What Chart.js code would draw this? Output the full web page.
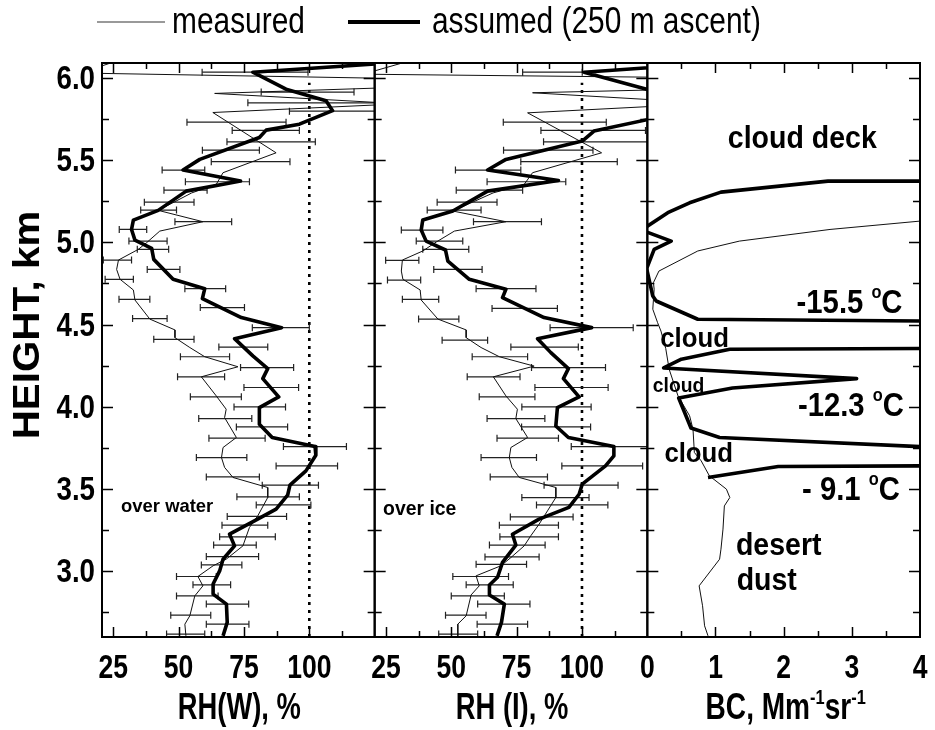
<!DOCTYPE html>
<html>
<head>
<meta charset="utf-8">
<title>RH and backscatter profiles</title>
<script src="https://cdn.jsdelivr.net/npm/chart.js@4.4.1/dist/chart.umd.min.js"></script>
<style>
  html, body { margin: 0; padding: 0; background: #fff; }
  #wrap { position: relative; width: 935px; height: 730px; }
</style>
</head>
<body>
<div id="wrap"><canvas id="profiles"></canvas></div>
<script>
// ---- RH over water (%), measured profile ----
const hMeasW = [6.12, 6.029, 5.977, 5.905, 5.842, 5.789, 5.544, 5.423, 5.352, 5.30, 5.194, 5.125, 5.068, 4.998, 4.957, 4.892, 4.835, 4.775, 4.71, 4.649, 4.533, 4.467, 4.42, 4.36, 4.304, 4.243, 4.182, 4.066, 3.985, 3.934, 3.813, 3.752, 3.691, 3.631, 3.57, 3.509, 3.448, 3.337, 3.266, 3.154, 3.073, 3.033, 2.968, 2.911, 2.85, 2.729, 2.678, 2.607];
const rhMeasW = [29.5, 12.7, 201, 63.8, 135, 63.1, 87.3, 67.0, 64.4, 55.0, 42.2, 59.3, 42.8, 37.8, 34.6, 27.0, 26.3, 27.6, 32.7, 33.3, 39.0, 48.6, 48.6, 54.3, 60.0, 72.7, 58.7, 64.4, 68.2, 67.6, 72.1, 67.0, 66.4, 67.6, 70.8, 84.1, 84.1, 80.3, 77.1, 74.6, 68.2, 63.2, 57.4, 59.3, 56.2, 54.3, 52.4, 52.8];

// ---- RH over water (%), assumed profile (250 m ascent) ----
const hAsmW = [6.1, 6.034, 5.931, 5.86, 5.80, 5.718, 5.682, 5.637, 5.504, 5.439, 5.372, 5.311, 5.194, 5.135, 5.078, 5.013, 4.963, 4.896, 4.775, 4.718, 4.657, 4.542, 4.481, 4.414, 4.309, 4.232, 4.171, 4.06, 3.995, 3.894, 3.813, 3.758, 3.705, 3.61, 3.523, 3.462, 3.377, 3.306, 3.225, 3.154, 3.073, 3.002, 2.922, 2.861, 2.8, 2.689, 2.607];
const rhAsmW = [140, 78.4, 91.1, 106.4, 108.9, 96.2, 83.5, 80.9, 58.1, 51.7, 73.7, 52.9, 42.2, 32.7, 32.0, 33.3, 39.7, 40.5, 47.9, 60.0, 59.1, 74.0, 89.4, 71.4, 78.4, 84.1, 82.2, 88.3, 80.9, 80.9, 85.8, 102.2, 102.5, 98.7, 92.6, 91.7, 87.3, 79.0, 69.5, 71.4, 67.0, 65.7, 63.2, 63.2, 68.3, 68.6, 67.0];

// ---- RH over water error bars ----
const hErrW = [6.034, 5.913, 5.848, 5.797, 5.73, 5.68, 5.611, 5.56, 5.49, 5.439, 5.368, 5.317, 5.244, 5.196, 5.125, 5.078, 5.007, 4.957, 4.892, 4.835, 4.775, 4.718, 4.653, 4.603, 4.536, 4.481, 4.41, 4.363, 4.304, 4.238, 4.182, 4.117, 4.06, 3.999, 3.928, 3.877, 3.809, 3.758, 3.691, 3.64, 3.573, 3.523, 3.452, 3.403, 3.333, 3.28, 3.209, 3.159, 3.089, 3.038, 2.968, 2.917, 2.85, 2.8, 2.733, 2.678, 2.618];
const errLoW = [59.0, 81.6, 76.5, 92.4, 53.2, 70.5, 68.5, 59.1, 62.5, 43.7, 52.6, 44.4, 36.9, 35.5, 48.6, 27.3, 31.0, 34.2, 21.2, 38.0, 21.9, 52.4, 27.2, 58.3, 32.4, 78.2, 40.5, 65.4, 50.7, 73.7, 49.6, 75.0, 54.5, 71.2, 57.7, 72.1, 61.6, 90.1, 56.8, 87.3, 60.6, 82.0, 72.3, 79.7, 68.6, 66.6, 65.7, 63.4, 60.6, 58.7, 49.2, 55.5, 49.2, 60.6, 47.0, 60.6, 45.4];
const errHiW = [99.5, 117.1, 128, 128, 91.1, 96.2, 102.3, 80.9, 92.6, 60.0, 77.1, 60.9, 55.9, 49.2, 70.3, 37.8, 45.6, 46.2, 32.0, 50.5, 32.7, 68.0, 39.0, 75.2, 45.6, 100, 55.9, 84.1, 69.5, 94.0, 67.6, 95.9, 74.0, 90.9, 78.0, 91.7, 83.1, 114.2, 76.1, 110.8, 80.9, 103.5, 96.2, 100.6, 91.3, 84.1, 87.0, 79.7, 80.6, 74.2, 64.4, 69.9, 65.1, 76.8, 62.3, 76.9, 60.0];

// ---- RH over ice (%), measured profile ----
const hMeasI = [6.12, 6.022, 5.98, 5.909, 5.845, 5.787, 5.544, 5.423, 5.352, 5.30, 5.19, 5.125, 5.068, 5.001, 4.947, 4.892, 4.825, 4.775, 4.71, 4.649, 4.533, 4.467, 4.42, 4.36, 4.304, 4.247, 4.182, 4.066, 3.985, 3.928, 3.813, 3.752, 3.691, 3.631, 3.57, 3.509, 3.448, 3.367, 3.286, 3.215, 3.154, 3.083, 3.033, 2.972, 2.911, 2.856, 2.729, 2.678, 2.607];
const rhMeasI = [37.8, 16.3, 270, 81.1, 150, 79.2, 107.5, 81.1, 77.9, 66.0, 50.6, 70.9, 51.2, 44.2, 39.1, 31.3, 30.9, 31.5, 38.1, 38.5, 44.9, 55.7, 55.7, 61.4, 68.4, 81.7, 66.1, 70.9, 75.3, 74.7, 79.2, 72.8, 72.2, 73.2, 76.0, 90.0, 90.0, 86.8, 83.6, 80.4, 77.9, 72.8, 69.0, 59.5, 60.7, 57.6, 55.7, 52.5, 52.5];

// ---- RH over ice (%), assumed profile ----
const hAsmI = [6.1, 6.034, 5.86, 5.80, 5.676, 5.615, 5.504, 5.439, 5.376, 5.311, 5.19, 5.135, 5.074, 5.007, 4.953, 4.886, 4.775, 4.714, 4.663, 4.542, 4.481, 4.414, 4.329, 4.232, 4.171, 4.06, 3.995, 3.883, 3.813, 3.758, 3.701, 3.64, 3.529, 3.468, 3.388, 3.317, 3.225, 3.159, 3.054, 2.963, 2.916, 2.855, 2.8, 2.689, 2.607];
const rhAsmI = [160, 100.8, 141, 141, 104.6, 100.1, 70.9, 63.9, 91.0, 63.9, 50.6, 39.1, 38.5, 40.4, 47.8, 48.7, 56.9, 70.9, 69.6, 85.5, 103.7, 83.0, 88.1, 94.8, 92.9, 98.9, 90.6, 90.0, 94.8, 112.2, 112.2, 109.0, 100.1, 98.9, 95.0, 83.6, 73.4, 74.7, 69.6, 67.7, 64.6, 64.6, 70.3, 69.2, 67.5];

// ---- RH over ice error bars ----
const hErrI = [6.034, 5.73, 5.68, 5.611, 5.56, 5.49, 5.439, 5.368, 5.317, 5.244, 5.196, 5.125, 5.074, 5.007, 4.957, 4.89, 4.835, 4.77, 4.718, 4.653, 4.598, 4.533, 4.481, 4.405, 4.363, 4.304, 4.238, 4.182, 4.117, 4.06, 3.999, 3.928, 3.877, 3.809, 3.758, 3.691, 3.64, 3.573, 3.523, 3.448, 3.403, 3.33, 3.28, 3.209, 3.159, 3.087, 3.042, 2.968, 2.917, 2.85, 2.8, 2.733, 2.678, 2.618];
const errLoI = [77.3, 69.9, 84.3, 85.3, 70.0, 76.6, 51.6, 63.7, 51.9, 44.6, 40.8, 58.5, 30.9, 36.6, 39.1, 24.9, 43.3, 25.6, 59.5, 31.3, 65.6, 37.5, 87.8, 46.5, 72.8, 58.0, 80.7, 56.1, 82.0, 60.7, 77.0, 63.7, 76.9, 67.5, 95.9, 61.4, 92.3, 64.9, 85.5, 77.0, 82.6, 72.6, 68.4, 68.6, 64.6, 62.9, 59.5, 50.6, 55.7, 50.0, 60.1, 47.8, 59.9, 45.2];
const errHiI = [100.1, 109.3, 124.3, 128, 104.2, 113.5, 76.6, 93.8, 77.3, 67.5, 61.4, 84.5, 46.8, 54.4, 56.7, 37.6, 61.8, 38.3, 82.4, 45.2, 90.6, 52.9, 119.6, 63.9, 98.6, 79.2, 109.0, 76.3, 110.0, 82.0, 103.5, 85.8, 103.3, 91.0, 128, 82.6, 123.2, 86.8, 113.8, 102.7, 109.9, 96.6, 91.0, 91.0, 85.9, 83.6, 78.8, 71.9, 73.7, 70.3, 80.1, 63.3, 79.2, 60.1];

// ---- backscatter coefficient (Mm-1 sr-1) ----
const hMeasBC = [5.148, 5.078, 5.007, 4.947, 4.825, 4.755, 4.714, 4.593, 4.512, 4.46, 4.354, 4.228, 4.066, 3.945, 3.863, 3.722, 3.671, 3.58, 3.499, 3.448, 3.397, 3.256, 3.134, 3.073, 2.911, 2.79, 2.668, 2.607];
const bcMeas = [4.5, 2.68, 1.35, 0.74, 0.17, 0.09, 0.10, 0.08, 0.15, 0.20, 0.27, 0.32, 0.45, 0.62, 0.67, 0.69, 0.79, 0.91, 1.16, 1.21, 1.13, 1.11, 1.08, 1.06, 0.76, 0.81, 0.84, 0.89];
const hAsmBC = [5.372, 5.372, 5.305, 5.24, 5.18, 5.098, 5.07, 5.007, 4.957, 4.84, 4.673, 4.643, 4.532, 4.52, 4.355, 4.35, 4.289, 4.236, 4.171, 4.114, 4.053, 3.871, 3.813, 3.748, 3.641, 3.637, 3.57];
const bcAsm = [4.5, 2.65, 1.08, 0.62, 0.30, 0.0, -0.06, 0.35, 0.10, -0.01, 0.08, 0.13, 0.74, 4.5, 4.5, 1.21, 0.50, 0.24, 3.07, 1.25, 0.46, 0.64, 1.06, 4.5, 4.5, 1.92, 0.89];

// ---- ticks ----
const heightTicks = [3.0, 3.5, 4.0, 4.5, 5.0, 5.5, 6.0];
const rhTicks = [25, 50, 75, 100];
const bcTicks = [0, 1, 2, 3, 4];

const FAMILY = '"Liberation Sans", Arial, sans-serif';
const INK = '#000';

function profile(hs, xs) {
    return hs.map((h, i) => ({ x: xs[i], y: h }));
}

// each bar is lo -> hi at one height, NaN point breaks the line between bars
function errorBars(hs, lo, hi) {
    const out = [];
    hs.forEach((h, i) => {
        out.push({ x: lo[i], y: h }, { x: hi[i], y: h }, { x: NaN, y: NaN });
    });
    return out;
}

function thinLine(data, axis) {
    return { data, xAxisID: axis, yAxisID: 'y', borderColor: '#111', borderWidth: 1, pointRadius: 0, order: 2, clip: 0 };
}
function thickLine(data, axis) {
    return { data, xAxisID: axis, yAxisID: 'y', borderColor: INK, borderWidth: 3.6, pointRadius: 0, order: 1, clip: 0,
             borderJoinStyle: 'round' };
}
function barSet(data, axis) {
    return { data, xAxisID: axis, yAxisID: 'y', borderColor: '#222', borderWidth: 1.2, order: 3, clip: 0,
             pointStyle: 'line', rotation: 90, pointRadius: 3.5, pointBorderWidth: 1.2, pointBorderColor: '#222' };
}
function saturation(axis) {
    return { data: [{ x: 100, y: 2.6 }, { x: 100, y: 5.97 }], xAxisID: axis, yAxisID: 'y', borderColor: INK,
             borderWidth: 2.6, borderDash: [3, 5], pointRadius: 0, order: 4, clip: 0 };
}

// text with optional superscripts, squeezed horizontally by sx
function drawRuns(ctx, runs, x, y, align, sx) {
    ctx.save();
    let total = 0;
    runs.forEach(r => {
        ctx.font = (r.bold === false ? '' : 'bold ') + r.size + 'px ' + FAMILY;
        r.w = ctx.measureText(r.text).width;
        total += r.w;
    });
    const start = align === 'center' ? x - total * sx / 2 : align === 'right' ? x - total * sx : x;
    ctx.translate(start, y);
    ctx.scale(sx, 1);
    ctx.textAlign = 'left';
    ctx.textBaseline = 'alphabetic';
    ctx.fillStyle = INK;
    let cx = 0;
    runs.forEach(r => {
        ctx.font = (r.bold === false ? '' : 'bold ') + r.size + 'px ' + FAMILY;
        ctx.fillText(r.text, cx, -(r.rise || 0));
        cx += r.w;
    });
    ctx.restore();
}
function drawText(ctx, text, x, y, size, align, sx, bold) {
    drawRuns(ctx, [{ text, size, bold }], x, y, align, sx);
}
function degC(label, size) {
    return [{ text: label, size }, { text: 'o', size: Math.round(size * 0.55), rise: size * 0.45 }, { text: 'C', size }];
}

const frame = {
    id: 'frame',
    afterDraw(chart) {
        const { ctx, scales } = chart;
        const y = scales.y;
        const panels = [
            { s: scales.xw, major: rhTicks, minorStep: 12.5 },
            { s: scales.xi, major: rhTicks, minorStep: 12.5 },
            { s: scales.xb, major: bcTicks, minorStep: 0.5 }
        ];
        ctx.save();
        ctx.strokeStyle = INK;
        ctx.lineWidth = 1.5;
        panels.forEach(p => {
            const s = p.s;
            // x ticks, inward from top and bottom
            for (let v = s.min - (s.min % p.minorStep) + p.minorStep; v < s.max; v += p.minorStep) {
                const px = Math.round(s.getPixelForValue(v)) + 0.5;
                const len = p.major.includes(v) ? 10 : 6;
                ctx.beginPath();
                ctx.moveTo(px, y.bottom); ctx.lineTo(px, y.bottom - len);
                ctx.moveTo(px, y.top); ctx.lineTo(px, y.top + len);
                ctx.stroke();
            }
            // height ticks, inward from both sides of the panel
            for (let h = 2.75; h <= 6.0001; h += 0.25) {
                const py = Math.round(y.getPixelForValue(h)) + 0.5;
                const len = Math.abs(h * 2 - Math.round(h * 2)) < 1e-6 ? 11 : 7;
                ctx.beginPath();
                ctx.moveTo(s.left, py); ctx.lineTo(s.left + len, py);
                ctx.moveTo(s.right, py); ctx.lineTo(s.right - len, py);
                ctx.stroke();
            }
        });
        ctx.lineWidth = 2;
        panels.forEach(p => {
            ctx.strokeRect(p.s.left, y.top, p.s.right - p.s.left, y.bottom - y.top);
        });
        ctx.restore();

        // tick labels
        heightTicks.forEach(h => drawText(ctx, h.toFixed(1), 95, y.getPixelForValue(h) + 11, 33, 'right', 0.84));
        [scales.xw, scales.xi].forEach(s => rhTicks.forEach(v => drawText(ctx, String(v), s.getPixelForValue(v), 678, 34, 'center', 0.78)));
        bcTicks.forEach(v => drawText(ctx, String(v), scales.xb.getPixelForValue(v), 678, 34, 'center', 0.78));

        // axis titles
        drawText(ctx, 'RH(W), %', (scales.xw.left + scales.xw.right) / 2 + 1, 719, 36, 'center', 0.76);
        drawText(ctx, 'RH (I), %', (scales.xi.left + scales.xi.right) / 2 + 1, 719, 36, 'center', 0.76);
        drawRuns(ctx, [{ text: 'BC, Mm', size: 36 }, { text: '-1', size: 21, rise: 15 }, { text: 'sr', size: 36 },
                       { text: '-1', size: 21, rise: 15 }], (scales.xb.left + scales.xb.right) / 2 + 2, 719, 'center', 0.78);
        ctx.save();
        ctx.translate(39, 325);
        ctx.rotate(-Math.PI / 2);
        drawText(ctx, 'HEIGHT, km', 0, 0, 36, 'center', 1.12);
        ctx.restore();

        // panel notes
        const xw = scales.xw, xi = scales.xi, xb = scales.xb;
        drawText(ctx, 'over water', xw.getPixelForValue(28), y.getPixelForValue(3.36), 19, 'left', 0.97);
        drawText(ctx, 'over ice', xi.getPixelForValue(23.9), y.getPixelForValue(3.342), 20, 'left', 0.97);
        drawText(ctx, 'cloud deck', xb.getPixelForValue(1.18), y.getPixelForValue(5.573), 31, 'left', 0.92);
        drawRuns(ctx, degC('-15.5 ', 34), xb.getPixelForValue(2.19), y.getPixelForValue(4.57), 'left', 0.86);
        drawText(ctx, 'cloud', xb.getPixelForValue(0.19), y.getPixelForValue(4.364), 28, 'left', 0.92);
        drawText(ctx, 'cloud', xb.getPixelForValue(0.08), y.getPixelForValue(4.09), 21, 'left', 0.92);
        drawRuns(ctx, degC('-12.3 ', 34), xb.getPixelForValue(2.21), y.getPixelForValue(3.944), 'left', 0.86);
        drawText(ctx, 'cloud', xb.getPixelForValue(0.25), y.getPixelForValue(3.664), 28, 'left', 0.92);
        drawRuns(ctx, degC('- 9.1 ', 34), xb.getPixelForValue(2.27), y.getPixelForValue(3.433), 'left', 0.86);
        drawText(ctx, 'desert', xb.getPixelForValue(1.30), y.getPixelForValue(3.099), 31, 'left', 0.92);
        drawText(ctx, 'dust', xb.getPixelForValue(1.31), y.getPixelForValue(2.886), 31, 'left', 0.92);

        // legend
        ctx.save();
        ctx.strokeStyle = '#777';
        ctx.lineWidth = 1.5;
        ctx.beginPath(); ctx.moveTo(97, 22); ctx.lineTo(165, 22); ctx.stroke();
        ctx.strokeStyle = INK;
        ctx.lineWidth = 4;
        ctx.beginPath(); ctx.moveTo(348, 22); ctx.lineTo(420, 22); ctx.stroke();
        ctx.restore();
        drawText(ctx, 'measured', 172, 33, 36, 'left', 0.83, false);
        drawText(ctx, 'assumed (250 m ascent)', 432, 33, 36, 'left', 0.83, false);
    }
};

document.addEventListener('DOMContentLoaded', () => {
    const ctx = document.getElementById('profiles').getContext('2d');
    new Chart(ctx, {
        type: 'line',
        data: {
            datasets: [
                thickLine(profile(hAsmW, rhAsmW), 'xw'),
                thinLine(profile(hMeasW, rhMeasW), 'xw'),
                barSet(errorBars(hErrW, errLoW, errHiW), 'xw'),
                saturation('xw'),
                thickLine(profile(hAsmI, rhAsmI), 'xi'),
                thinLine(profile(hMeasI, rhMeasI), 'xi'),
                barSet(errorBars(hErrI, errLoI, errHiI), 'xi'),
                saturation('xi'),
                thickLine(profile(hAsmBC, bcAsm), 'xb'),
                thinLine(profile(hMeasBC, bcMeas), 'xb')
            ]
        },
        options: {
            responsive: true,
            maintainAspectRatio: false,
            animation: false,
            events: [],
            layout: { padding: { left: 102, right: 15, top: 63, bottom: 93 } },
            elements: { line: { tension: 0 } },
            plugins: { legend: { display: false }, tooltip: { enabled: false } },
            scales: {
                y: { type: 'linear', position: 'left', min: 2.6, max: 6.09, display: false },
                xw: { type: 'linear', position: 'bottom', stack: 'panels', min: 20.7, max: 125, display: false },
                xi: { type: 'linear', position: 'bottom', stack: 'panels', min: 20.7, max: 125, display: false },
                xb: { type: 'linear', position: 'bottom', stack: 'panels', min: 0, max: 4, display: false }
            }
        },
        plugins: [frame]
    });
});
</script>
</body>
</html>
